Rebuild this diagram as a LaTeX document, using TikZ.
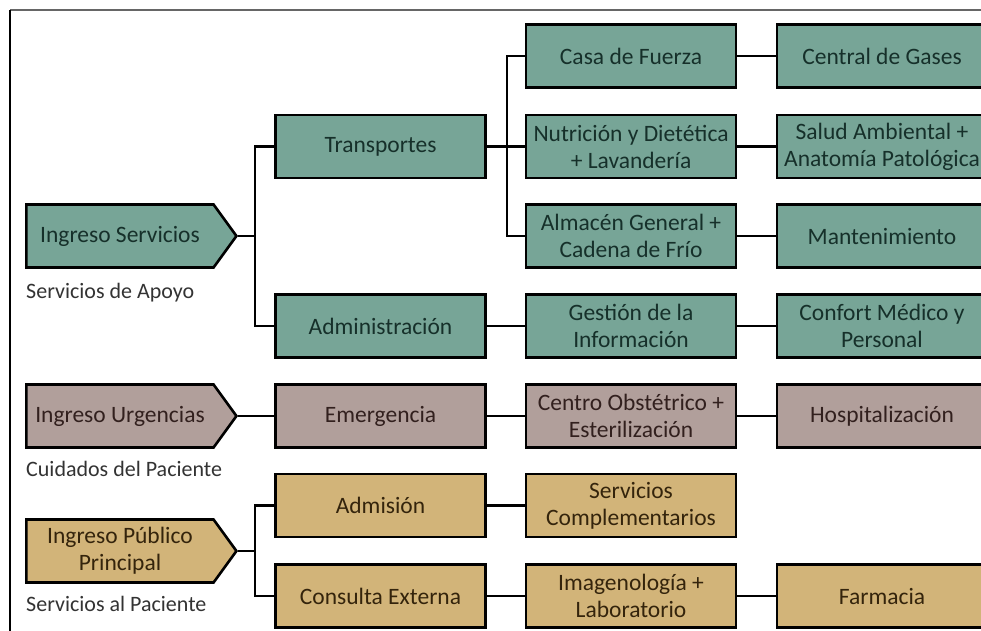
\documentclass[tikz,border=0pt]{standalone}
\usepackage{fontspec}
\setmainfont{Carlito}
\usetikzlibrary{shapes.symbols}

\definecolor{apoyo}{RGB}{119,165,151}
\definecolor{apoyotxt}{RGB}{22,48,42}
\definecolor{cuidado}{RGB}{177,159,155}
\definecolor{cuidadotxt}{RGB}{50,32,30}
\definecolor{publico}{RGB}{210,180,121}
\definecolor{publicotxt}{RGB}{52,36,12}

\begin{document}
\begin{tikzpicture}[x=1pt, y=-1pt,
  box/.style={draw=black, line width=2.6pt, rectangle, minimum width=210pt, minimum height=63pt,
    inner sep=0pt, align=center, font=\fontsize{23.5}{27}\selectfont},
  entry/.style={draw=black, line width=2.6pt, signal, signal to=east, signal pointer angle=108,
    minimum width=210pt, minimum height=63pt, inner sep=0pt, align=center,
    font=\fontsize{23.5}{27}\selectfont},
  area/.style={anchor=west, text=black!80, inner sep=0pt, font=\fontsize{22}{26}\selectfont},
  apoyobox/.style={fill=apoyo, text=apoyotxt},
  cuidadobox/.style={fill=cuidado, text=cuidadotxt},
  publicobox/.style={fill=publico, text=publicotxt},
  link/.style={line width=2.6pt}]

\def\width{981}
\def\height{630}
\def\ca{120}
\def\cb{380.5}
\def\cc{631}
\def\cd{882}

\path [use as bounding box] (0,0) rectangle (\width,\height);
\clip (0,0) rectangle (\width,\height);

% FRAME
\draw [line width=1.4pt, black!60] (10,10) -- (\width+10,10);
\draw [line width=1.4pt, black] (10,10) -- (10,\height+10);

% ENTRANCES
\node [entry, apoyobox] (ingS) at (\ca,236) {Ingreso Servicios};
\node [entry, cuidadobox] (ingU) at (\ca,416) {Ingreso Urgencias};
\node [entry, publicobox] (ingP) at (\ca,551) {Ingreso Público\\Principal};
\node [area] (apoyo) at (26,293) {Servicios de Apoyo};
\node [area] (cuidado) at (26,469) {Cuidados del Paciente};
\node [area] (servicio) at (26,604) {Servicios al Paciente};

% SERVICIOS DE APOYO
\node [box, apoyobox] (trans) at (\cb,146.5) {Transportes};
\node [box, apoyobox] (admin) at (\cb,326) {Administración};
\node [box, apoyobox] (casa) at (\cc,56) {Casa de Fuerza};
\node [box, apoyobox] (nutri) at (\cc,146.5) {Nutrición y Dietética\\+ Lavandería};
\node [box, apoyobox] (almac) at (\cc,236) {Almacén General +\\Cadena de Frío};
\node [box, apoyobox] (gesti) at (\cc,326) {Gestión de la\\Información};
\node [box, apoyobox] (gases) at (\cd,56) {Central de Gases};
\node [box, apoyobox] (salud) at (\cd,146.5) {Salud Ambiental +\\Anatomía Patológica};
\node [box, apoyobox] (mante) at (\cd,236) {Mantenimiento};
\node [box, apoyobox] (confo) at (\cd,326) {Confort Médico y\\Personal};

% CUIDADOS DEL PACIENTE
\node [box, cuidadobox] (emerg) at (\cb,416) {Emergencia};
\node [box, cuidadobox] (obste) at (\cc,416) {Centro Obstétrico +\\Esterilización};
\node [box, cuidadobox] (hospi) at (\cd,416) {Hospitalización};

% SERVICIOS AL PACIENTE
\node [box, publicobox] (admis) at (\cb,505.5) {Admisión};
\node [box, publicobox] (consu) at (\cb,596) {Consulta Externa};
\node [box, publicobox] (compl) at (\cc,505.5) {Servicios\\Complementarios};
\node [box, publicobox] (image) at (\cc,596) {Imagenología +\\Laboratorio};
\node [box, publicobox] (farma) at (\cd,596) {Farmacia};

% LINKS
\coordinate (brS) at (255,236);
\coordinate (brT) at (507,146.5);
\coordinate (brP) at (255,551);
\draw [link] (ingS.east) -- (brS);
\draw [link] (trans.west) -| (brS) |- (admin.west);
\draw [link] (trans.east) -- (nutri.west);
\draw [link] (casa.west) -| (brT) |- (almac.west);
\draw [link] (casa) -- (gases);
\draw [link] (nutri) -- (salud);
\draw [link] (almac) -- (mante);
\draw [link] (admin) -- (gesti);
\draw [link] (gesti) -- (confo);
\draw [link] (ingU.east) -- (emerg.west);
\draw [link] (emerg) -- (obste);
\draw [link] (obste) -- (hospi);
\draw [link] (ingP.east) -- (brP);
\draw [link] (admis.west) -| (brP) |- (consu.west);
\draw [link] (admis) -- (compl);
\draw [link] (consu) -- (image);
\draw [link] (image) -- (farma);

\end{tikzpicture}
\end{document}
